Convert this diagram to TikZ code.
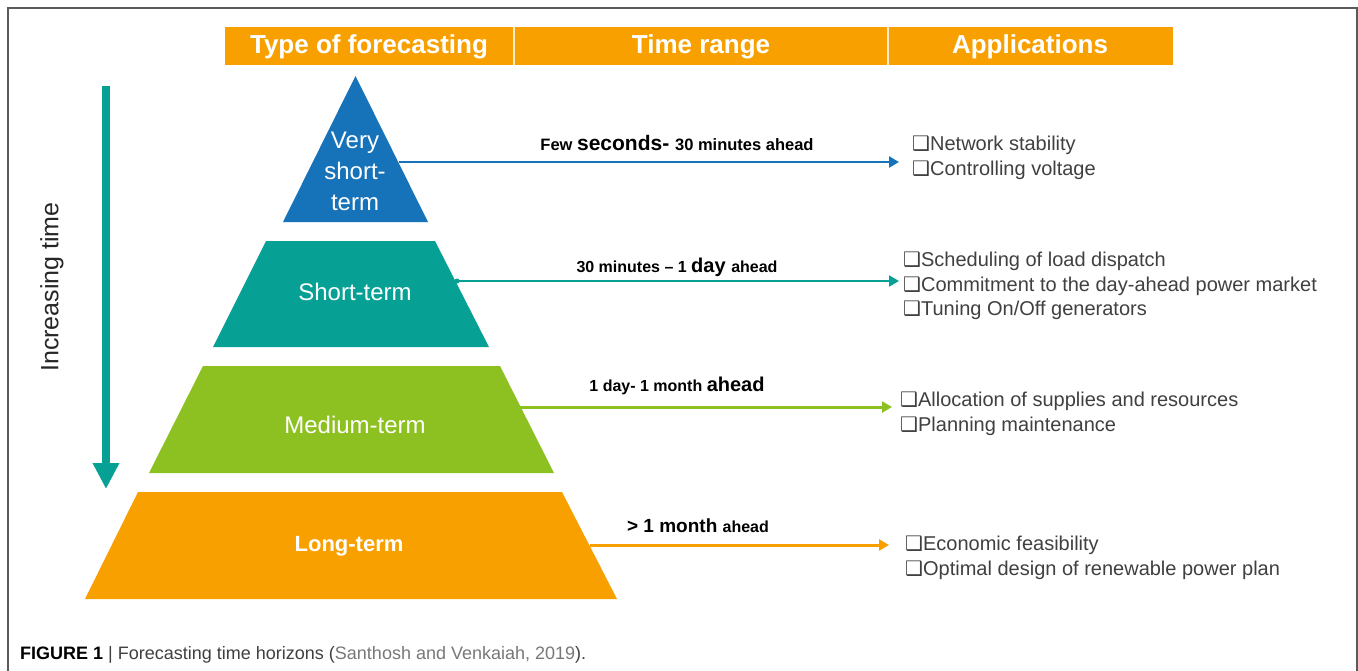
\documentclass[tikz,border=0pt]{standalone}
\usepackage{fontspec}
\setmainfont{Liberation Sans}
\newfontfamily\symfont{DejaVu Sans}
\usetikzlibrary{arrows.meta}
\definecolor{cOrange}{RGB}{247,160,0}
\definecolor{cBlue}{RGB}{22,115,186}
\definecolor{cTeal}{RGB}{6,160,148}
\definecolor{cGreen}{RGB}{141,192,33}
\definecolor{cText}{RGB}{64,64,64}
\definecolor{cRef}{RGB}{120,120,120}
\definecolor{cFrame}{RGB}{90,90,90}
\newcommand{\fs}[1]{\fontsize{#1}{#1}\selectfont}
\newcommand{\sq}{{\symfont\fontsize{20}{20}\selectfont ❑}}
\tikzset{
  hdr/.style={text=white, font=\bfseries\fs{26}, inner sep=0pt},
  pyr/.style={text=white, font=\fs{24}, align=center, inner sep=0pt},
  lab/.style={text=black, font=\bfseries, inner sep=0pt, anchor=base},
  app/.style={text=cText, font=\fontsize{20}{24.5}\selectfont, align=left, inner sep=0pt, anchor=west},
  conn/.style={line width=2.5pt, -{Triangle[length=10pt,width=11pt]}}
}
\begin{document}
\begin{tikzpicture}[x=1pt,y=-1pt]
\useasboundingbox (0,0) rectangle (1358,670);
\fill[white] (0,0) rectangle (1358,670);
\draw[cFrame, line width=1.5pt] (8,675) -- (8,8) -- (1357,8) -- (1357,675);
% header
\fill[cOrange] (225,27) rectangle (1173,65);
\draw[white!80!cOrange, line width=1.2pt] (514,27) -- (514,65) (888,27) -- (888,65);
\node[hdr] (h1) at (369,47) {Type of forecasting};
\node[hdr] (h2) at (701,47) {Time range};
\node[hdr] (h3) at (1030,47) {Applications};
% pyramid
\fill[cBlue] (355.5,76) -- (428,222) -- (283,222) -- cycle;
\fill[cTeal] (266,241) -- (435,241) -- (489,347) -- (213,347) -- cycle;
\fill[cGreen] (203,366) -- (500,366) -- (554,473) -- (149,473) -- cycle;
\fill[cOrange] (138,492) -- (562,492) -- (617,599) -- (85,599) -- cycle;
\node[pyr, font=\fontsize{24}{31}\selectfont] (vst) at (355,171) {Very\\short-\\term};
\node[pyr] (st) at (355,292) {Short-term};
\node[pyr] (mt) at (355,425) {Medium-term};
\node[pyr, font=\bfseries\fs{22}] (lt) at (349,546) {Long-term};
% increasing time
\coordinate (vtop) at (106,86);
\coordinate (vbot) at (106,489);
\draw[cTeal, line width=8pt, -{Triangle[length=26pt,width=25pt]}] (vtop) -- (vbot);
\node[rotate=90, text=black!85, font=\fs{25}, inner sep=0pt] (inc) at (52,287) {Increasing time};
% connectors
\coordinate (a1s) at (399,162); \coordinate (a1e) at (899,162);
\coordinate (a2s) at (457,281); \coordinate (a2e) at (899,281);
\coordinate (a3s) at (520,407); \coordinate (a3e) at (892,407);
\coordinate (a4s) at (590,545); \coordinate (a4e) at (889,545);
\draw[conn, cBlue, line width=2.8pt] (a1s) -- (a1e);
\draw[conn, cTeal, line width=2pt] (a2s) -- (a2e);
\fill[cTeal] (a2s) circle (2.5pt);
\draw[conn, cGreen, line width=3pt] (a3s) -- (a3e);
\draw[conn, cOrange, line width=3pt] (a4s) -- (a4e);
% time labels
\node[lab] (l1) at (677,150) {\fs{16.5}Few \fs{21}seconds- \fs{16.5}30 minutes ahead};
\node[lab] (l2) at (677,272) {\fs{16}30 minutes -- 1 \fs{20}day \fs{16}ahead};
\node[lab] (l3) at (677,391) {\fs{16}1 day- 1 month \fs{20}ahead};
\node[lab] (l4) at (698,532) {\fs{19}> 1 month \fs{16}ahead};
% applications
\node[app] (p1) at (912,158) {\sq Network stability\\\sq Controlling voltage};
\node[app] (p2) at (903,286) {\sq Scheduling of load dispatch\\\sq Commitment to the day-ahead power market\\\sq Tuning On/Off generators};
\node[app] (p3) at (900,414) {\sq Allocation of supplies and resources\\\sq Planning maintenance};
\node[app] (p4) at (905,558) {\sq Economic feasibility\\\sq Optimal design of renewable power plan};
% caption
\node[anchor=base west, inner sep=0pt, font=\fs{18}, text=cText] (cap) at (20,659)
  {\textbf{\color{black}FIGURE 1} | Forecasting time horizons ({\color{cRef}Santhosh and Venkaiah, 2019}).};
\end{tikzpicture}
\end{document}
